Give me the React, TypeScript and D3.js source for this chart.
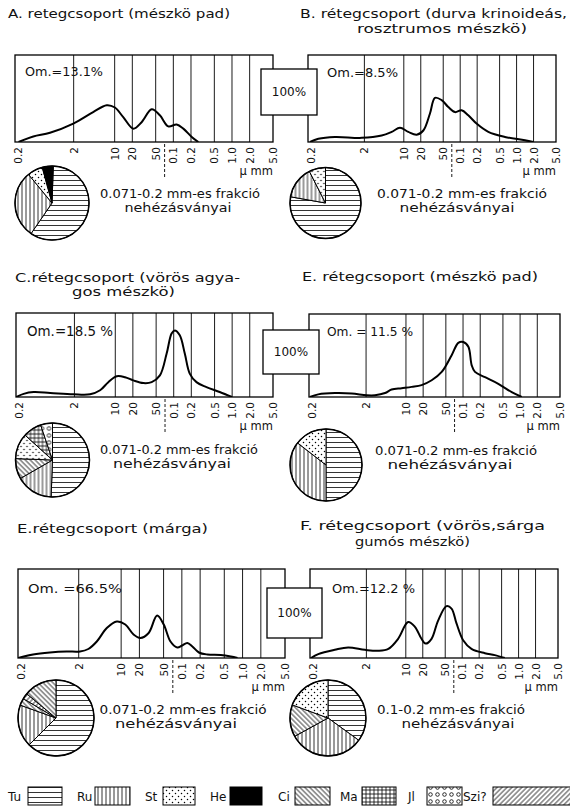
import React from "react";
import * as d3 from "d3";

// ---------- data ----------
const tickValues = [0.2, 2, 10, 20, 50, 100, 200, 500, 1000, 2000, 5000];
const tickLabels = ["0.2", "2", "10", "20", "50", "0.1", "0.2", "0.5", "1.0", "2.0", "5.0"];
const fractionMark = 71; // µm, dashed marker

// grain-size curves: [size in µm, height in % of the 100% box]
const curveA: [number, number][] = [[0.23,0],[0.41,12],[0.79,20],[1.97,40],[4.3,65],[7.3,80],[10.1,75],[14,54],[20.8,29],[28.8,43],[42.8,71],[59,58],[82,34],[114,38],[148,29],[206,11],[267,0]];
const curveB: [number, number][] = [[0.217,0],[0.305,7],[0.6,11],[1.79,9],[4.05,14],[6.1,22],[8.55,31],[12,22],[16.9,16],[22.2,25],[29.1,62],[35.7,96],[46.9,91],[61.5,76],[80.8,65],[106,69],[139,58],[195,40],[315,22],[622,11],[1409,4],[1977,0]];
const curveC: [number, number][] = [[0.202,0],[0.27,7],[0.4,11],[0.77,9],[1.92,6],[3.7,6],[5.5,15],[7.6,33],[10.6,46],[14.7,44],[20.3,37],[30.1,31],[41.9,33],[58,48],[75.5,96],[91.9,141],[104,148],[127,137],[155,96],[188,52],[245,33],[363,22],[612,11],[990,0]];
const curveE: [number, number][] = [[0.208,0],[0.29,6],[0.57,9],[1.12,8],[2.05,4],[2.87,4],[4.3,9],[5.6,17],[8.4,20],[12.6,23],[18.8,27],[28.2,38],[42.3,57],[63.2,95],[82.6,123],[101,125],[124,114],[142,72],[162,57],[243,45],[415,30],[713,11],[1067,0]];
const curveEm: [number, number][] = [[0.2,0],[0.354,7],[0.67,11],[1.26,13],[2.1,13],[2.88,18],[3.97,33],[5.8,60],[8.5,73],[11.7,67],[16,47],[20.7,40],[28.4,50],[39.1,85],[50.3,67],[65,33],[84,21],[101,25],[123,30],[149,23],[191,11],[263,7],[437,6],[640,3],[826,0]];
const curveF: [number, number][] = [[0.208,0],[0.28,8],[0.55,17],[0.95,22],[1.88,17],[3.24,15],[4.9,19],[7.3,40],[11,75],[14.5,65],[19,40],[22.4,30],[28.6,40],[37.4,78],[52.7,108],[64.7,103],[79.3,72],[104,37],[146,19],[252,10],[378,6],[569,0]];

// heavy-mineral pies: [mineral, share %], clockwise from the start angle
const pieA: [string, number][] = [["Tu",59],["Ru",29.5],["St",6.7],["He",4.8]];
const pieB: [string, number][] = [["Tu",77.8],["Ru",14.7],["St",7.5]];
const pieC: [string, number][] = [["Tu",50.6],["Ru",16.1],["Ci",8.9],["St",11.1],["Ma",8.1],["Jl",5.2]];
const pieE: [string, number][] = [["Tu",50],["Ru",35.5],["St",14.5]];
const pieEm: [string, number][] = [["Tu",62.5],["Ru",18],["Ci",3],["Szi",2.5],["Ci",14]];
const pieF: [string, number][] = [["Tu",35],["Ru",32],["Ci",13.6],["St",19.4]];

const legendKeys = ["Tu","Ru","St","He","Ci","Ma","Jl","Szi"];
const legendLabels = ["Tu","Ru","St","He","Ci","Ma","Jl","Szi?"];

const panels = [
  { titles: ["A. retegcsoport (mészkö pad)"], om: "Om.=13.1%", curve: curveA, pie: pieA, pieStart: 2, frac: ["0.071-0.2 mm-es frakció", "nehézásványai"] },
  { titles: ["B. rétegcsoport (durva krinoideás,", "rosztrumos mészkö)"], om: "Om.=8.5%", curve: curveB, pie: pieB, pieStart: 0, frac: ["0.071-0.2 mm-es frakció", "nehézásványai"] },
  { titles: ["C.rétegcsoport (vörös agya-", "gos mészkö)"], om: "Om.=18.5 %", curve: curveC, pie: pieC, pieStart: 0, frac: ["0.071-0.2 mm-es frakció", "nehézásványai"] },
  { titles: ["E. rétegcsoport (mészkö pad)"], om: "Om. = 11.5 %", curve: curveE, pie: pieE, pieStart: 0, frac: ["0.071-0.2 mm-es frakció", "nehézásványai"] },
  { titles: ["E.rétegcsoport (márga)"], om: "Om. =66.5%", curve: curveEm, pie: pieEm, pieStart: 0, frac: ["0.071-0.2 mm-es frakció", "nehézásványai"] },
  { titles: ["F. rétegcsoport (vörös,sárga", "gumós mészkö)"], om: "Om.=12.2 %", curve: curveF, pie: pieF, pieStart: 0, frac: ["0.1-0.2 mm-es frakció", "nehézásványai"] },
];

// ---------- layout ----------
const layout = [
  { x0: 15, x1: 273, y0: 55, y1: 142, h100: 46, title: [[8, 18, 222]], om: [25, 76, 78, 12], pie: [52, 203, 37], frac: [[180, 198, 160], [178, 212, 107]] },
  { x0: 308, x1: 556, y0: 55, y1: 142, h100: 46, title: [[300, 18, 267], [357, 33, 170]], om: [327, 77, 71, 12], pie: [325.5, 203, 35.5], frac: [[462, 198, 170], [457, 212, 115]] },
  { x0: 16, x1: 273, y0: 313, y1: 397, h100: 45, title: [[15, 282, 225], [72, 296, 103]], om: [27, 336, 86, 14], pie: [52.5, 460, 37], frac: [[179, 454, 158], [172, 468, 118]] },
  { x0: 309, x1: 560, y0: 314, y1: 397, h100: 44, title: [[302, 281, 236]], om: [327, 336, 86, 13], pie: [326, 465, 36], frac: [[456, 455, 162], [450, 469, 125]] },
  { x0: 18, x1: 285, y0: 569, y1: 658, h100: 50, title: [[17, 533, 191]], om: [28, 593, 94, 13], pie: [56, 718, 38], frac: [[183, 714, 167], [176, 728, 122]] },
  { x0: 310, x1: 558, y0: 569, y1: 658, h100: 48, title: [[300, 530, 245], [355, 546, 115]], om: [332, 593, 83, 13], pie: [328, 718, 38], frac: [[451, 714, 148], [458, 728, 113]] },
];
const midBoxes = [[261, 69, 56, 46], [263, 330, 56, 44], [267, 588, 55, 50]];
const legendPos = [[8, 28, 34], [77, 95, 35], [145, 163, 32], [210, 230, 32], [278, 295, 35], [340, 362, 34], [408, 427, 35], [463, 493, 80]];

const FONT = "DejaVu Sans, sans-serif";

function Patterns() {
  return (
    <defs>
      <pattern id="p-Tu" width="8" height="5" patternUnits="userSpaceOnUse">
        <rect width="8" height="5" fill="white" />
        <line x1="0" y1="2.5" x2="8" y2="2.5" stroke="black" strokeWidth="0.8" />
      </pattern>
      <pattern id="p-Ru" width="4" height="8" patternUnits="userSpaceOnUse">
        <rect width="4" height="8" fill="white" />
        <line x1="2" y1="0" x2="2" y2="8" stroke="black" strokeWidth="0.8" />
      </pattern>
      <pattern id="p-St" width="6" height="6" patternUnits="userSpaceOnUse">
        <rect width="6" height="6" fill="white" />
        <circle cx="1.5" cy="1.5" r="0.75" fill="black" />
        <circle cx="4.5" cy="4.5" r="0.75" fill="black" />
      </pattern>
      <pattern id="p-He" width="4" height="4" patternUnits="userSpaceOnUse">
        <rect width="4" height="4" fill="black" />
      </pattern>
      <pattern id="p-Ci" width="3.5" height="6" patternUnits="userSpaceOnUse" patternTransform="rotate(-45)">
        <rect width="3.5" height="6" fill="white" />
        <line x1="1.75" y1="0" x2="1.75" y2="6" stroke="black" strokeWidth="0.8" />
      </pattern>
      <pattern id="p-Szi" width="3.5" height="6" patternUnits="userSpaceOnUse" patternTransform="rotate(45)">
        <rect width="3.5" height="6" fill="white" />
        <line x1="1.75" y1="0" x2="1.75" y2="6" stroke="black" strokeWidth="0.8" />
      </pattern>
      <pattern id="p-Ma" width="4" height="4" patternUnits="userSpaceOnUse">
        <rect width="4" height="4" fill="white" />
        <line x1="2" y1="0" x2="2" y2="4" stroke="black" strokeWidth="0.8" />
        <line x1="0" y1="2" x2="4" y2="2" stroke="black" strokeWidth="0.8" />
      </pattern>
      <pattern id="p-Jl" width="7" height="7" patternUnits="userSpaceOnUse">
        <rect width="7" height="7" fill="white" />
        <circle cx="3.5" cy="3.5" r="1.8" fill="none" stroke="black" strokeWidth="0.8" />
      </pattern>
    </defs>
  );
}

function Panel({ p, l, idx }: { p: any; l: any; idx: number }) {
  const x = d3.scaleLog().domain([0.2, 5000]).range([l.x0, l.x1]);
  const y = d3.scaleLinear().domain([0, 100]).range([l.y1, l.y1 - l.h100]);
  const line = d3
    .line<[number, number]>()
    .x((d) => x(d[0]))
    .y((d) => y(d[1]))
    .curve(d3.curveCatmullRom.alpha(0.5));
  const a0 = (p.pieStart * Math.PI) / 180;
  const pie = d3
    .pie<[string, number]>()
    .value((d) => d[1])
    .sort(null)
    .startAngle(a0)
    .endAngle(a0 + 2 * Math.PI);
  const arc = d3.arc<any>().innerRadius(0).outerRadius(l.pie[2]);
  const arcs = pie(p.pie);
  const clipId = `clip-${idx}`;
  return (
    <g>
      <clipPath id={clipId}>
        <rect x={l.x0} y={l.y0} width={l.x1 - l.x0} height={l.y1 - l.y0} />
      </clipPath>
      {p.titles.map((t: string, i: number) => (
        <text key={i} x={l.title[i][0]} y={l.title[i][1]} textLength={l.title[i][2]} lengthAdjust="spacingAndGlyphs"
          fontFamily={FONT} fontSize={13} fill="#111">{t}</text>
      ))}
      <rect x={l.x0} y={l.y0} width={l.x1 - l.x0} height={l.y1 - l.y0} fill="white" stroke="black" strokeWidth={1.3} />
      {tickValues.slice(1, -1).map((v) => (
        <line key={v} x1={x(v)} x2={x(v)} y1={l.y0} y2={l.y1} stroke="black" strokeWidth={0.9} />
      ))}
      <path d={line(p.curve) || ""} fill="none" stroke="black" strokeWidth={2} strokeLinejoin="round" clipPath={`url(#${clipId})`} />
      <text x={l.om[0]} y={l.om[1]} textLength={l.om[2]} lengthAdjust="spacingAndGlyphs" fontFamily={FONT} fontSize={l.om[3]} fill="#111">{p.om}</text>
      {tickValues.map((v, i) => {
        const xx = x(v) + (i === 0 ? 3 : 0);
        return (
          <text key={i} transform={`translate(${xx},${l.y1 + 5}) rotate(-90)`} textAnchor="end" dominantBaseline="central"
            fontFamily={FONT} fontSize={10.5} fill="#111">{tickLabels[i]}</text>
        );
      })}
      <line x1={x(fractionMark)} x2={x(fractionMark)} y1={l.y1 + 2} y2={l.y1 + 37} stroke="black" strokeWidth={0.9} strokeDasharray="3,2" />
      <text x={l.x1} y={l.y1 + 33} textAnchor="end" fontFamily={FONT} fontSize={11.5} fill="#111">µ mm</text>
      <g transform={`translate(${l.pie[0]},${l.pie[1]})`}>
        {arcs.map((d, i) => (
          <path key={i} d={arc(d) || ""} fill={`url(#p-${d.data[0]})`} stroke="black" strokeWidth={1} />
        ))}
        <circle r={l.pie[2]} fill="none" stroke="black" strokeWidth={1.5} />
      </g>
      {p.frac.map((t: string, i: number) => (
        <text key={i} x={l.frac[i][0]} y={l.frac[i][1]} textAnchor="middle" textLength={l.frac[i][2]} lengthAdjust="spacingAndGlyphs"
          fontFamily={FONT} fontSize={12} fill="#111">{t}</text>
      ))}
    </g>
  );
}

export default function App() {
  return (
    <svg width={570} height={812} style={{ position: "absolute", left: 0, top: 0, background: "white" }}>
      <Patterns />
      <rect width={570} height={812} fill="white" />
      {panels.map((p, i) => (
        <Panel key={i} p={p} l={layout[i]} idx={i} />
      ))}
      {midBoxes.map((b, i) => (
        <g key={i}>
          <rect x={b[0]} y={b[1]} width={b[2]} height={b[3]} fill="white" stroke="black" strokeWidth={1.3} />
          <text x={b[0] + b[2] / 2} y={b[1] + b[3] / 2} textAnchor="middle" dominantBaseline="central" fontFamily={FONT} fontSize={12} fill="#111">100%</text>
        </g>
      ))}
      {legendKeys.map((k, i) => (
        <g key={k}>
          <text x={legendPos[i][0]} y={801} fontFamily={FONT} fontSize={12} fill="#111">{legendLabels[i]}</text>
          <rect x={legendPos[i][1]} y={787} width={legendPos[i][2]} height={18} fill={`url(#p-${k})`} stroke="black" strokeWidth={1} />
        </g>
      ))}
    </svg>
  );
}
